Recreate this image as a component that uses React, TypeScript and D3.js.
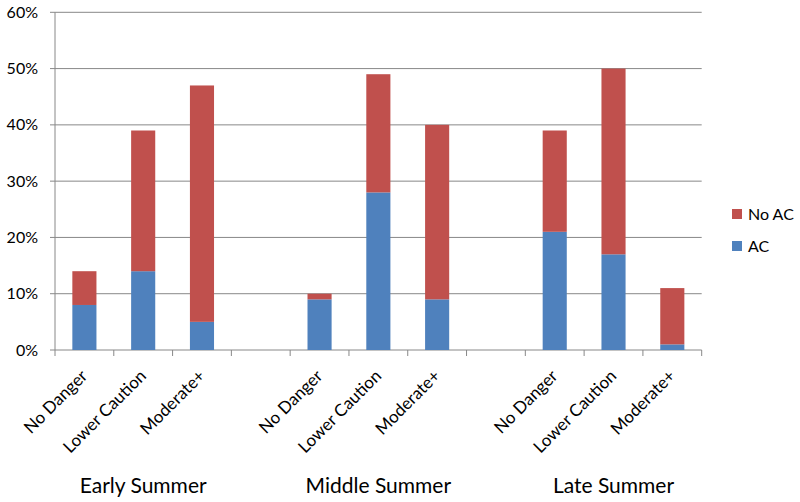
import React from "react";
import * as d3 from "d3";

const slots = ["E-ND", "E-LC", "E-M", "gap1", "M-ND", "M-LC", "M-M", "gap2", "L-ND", "L-LC", "L-M"];
const slotLabels = ["No Danger", "Lower Caution", "Moderate+", "", "No Danger", "Lower Caution", "Moderate+", "", "No Danger", "Lower Caution", "Moderate+"];
const acValues = [8, 14, 5, null, 9, 28, 9, null, 21, 17, 1];
const noAcValues = [6, 25, 42, null, 1, 21, 31, null, 18, 33, 10];
const groups = ["Early Summer", "Middle Summer", "Late Summer"];
const groupCenterSlots = ["E-LC", "M-LC", "L-LC"];
const yTicks = [0, 10, 20, 30, 40, 50, 60];
const seriesNames = ["No AC", "AC"];
const colors: Record<string, string> = { "AC": "#4F81BD", "No AC": "#C0504D" };

export default function App() {
  const W = 800, H = 502;
  const left = 55, right = 701.7, top = 12.3, bottom = 350;
  const x = d3.scaleBand<string>().domain(slots).range([left, right]).paddingInner(0.59).paddingOuter(0.295);
  const y = d3.scaleLinear().domain([0, 60]).range([bottom, top]);
  const step = x.step();
  const font = "Lato, 'Open Sans', sans-serif";
  const grid = "#888888";

  return (
    <svg width={W} height={H} style={{ position: "absolute", left: 0, top: 0, background: "#fff" }} fontFamily={font}>
      {yTicks.map((t) => (
        <g key={t}>
          <line x1={left - 5} x2={right} y1={y(t)} y2={y(t)} stroke={grid} strokeWidth={1} />
          <text x={38} y={y(t)} dy="0.35em" textAnchor="end" fontSize={16} fill="#000">{t}%</text>
        </g>
      ))}
      <line x1={left} x2={left} y1={top} y2={bottom} stroke={grid} strokeWidth={1} />
      {d3.range(slots.length + 1).map((i) => (
        <line key={i} x1={left + i * step} x2={left + i * step} y1={bottom} y2={bottom + 6} stroke={grid} strokeWidth={1} />
      ))}
      {slots.map((s, i) => {
        const ac = acValues[i];
        const nac = noAcValues[i];
        if (ac == null || nac == null) return null;
        const bx = x(s)!;
        const bw = x.bandwidth();
        return (
          <g key={s}>
            <rect x={bx} y={y(ac)} width={bw} height={y(0) - y(ac)} fill={colors["AC"]} />
            <rect x={bx} y={y(ac + nac)} width={bw} height={y(ac) - y(ac + nac)} fill={colors["No AC"]} />
          </g>
        );
      })}
      {slots.map((s, i) => {
        if (!slotLabels[i]) return null;
        const cx = x(s)! + x.bandwidth() / 2 + 4;
        const cy = bottom + 27;
        return (
          <text key={"l" + s} x={cx} y={cy} transform={`rotate(-45 ${cx} ${cy})`} textAnchor="end" fontSize={17} fill="#000">{slotLabels[i]}</text>
        );
      })}
      {groups.map((g, i) => (
        <text key={g} x={x(groupCenterSlots[i])! + x.bandwidth() / 2} y={493} textAnchor="middle" fontSize={21} fill="#000">{g}</text>
      ))}
      {seriesNames.map((n, i) => (
        <g key={n}>
          <rect x={732} y={209 + i * 32} width={10} height={10} fill={colors[n]} />
          <text x={748} y={214 + i * 32} dy="0.35em" fontSize={16} fill="#000">{n}</text>
        </g>
      ))}
    </svg>
  );
}
